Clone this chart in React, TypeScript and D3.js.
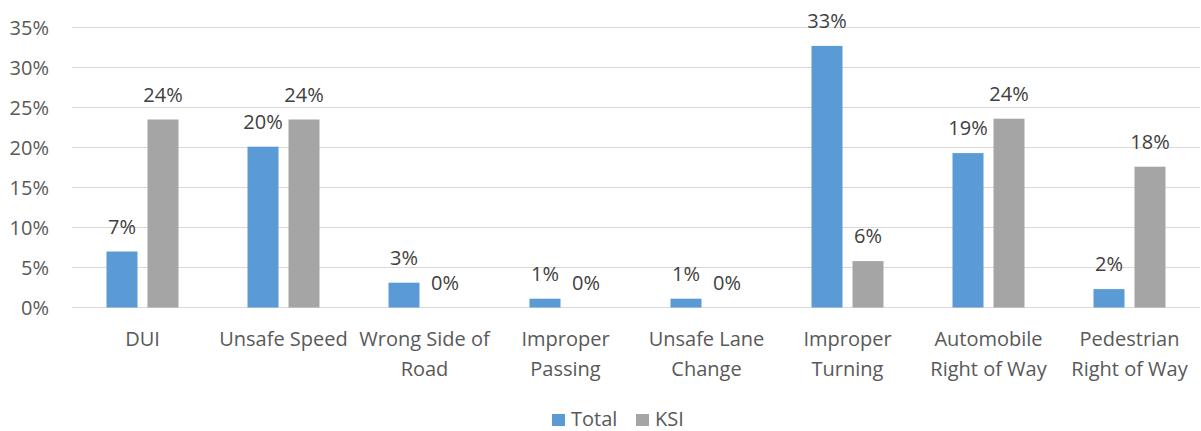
import React from "react";
import * as d3 from "d3";

const categories = [
  "DUI",
  "Unsafe Speed",
  "Wrong Side of Road",
  "Improper Passing",
  "Unsafe Lane Change",
  "Improper Turning",
  "Automobile Right of Way",
  "Pedestrian Right of Way",
];
const categoryLines = [
  ["DUI"],
  ["Unsafe Speed"],
  ["Wrong Side of", "Road"],
  ["Improper", "Passing"],
  ["Unsafe Lane", "Change"],
  ["Improper", "Turning"],
  ["Automobile", "Right of Way"],
  ["Pedestrian", "Right of Way"],
];
const seriesNames = ["Total", "KSI"];
const totalValues = [0.07, 0.201, 0.031, 0.011, 0.011, 0.327, 0.193, 0.023];
const ksiValues = [0.235, 0.235, 0, 0, 0, 0.058, 0.236, 0.176];
const yTicks = [0, 0.05, 0.1, 0.15, 0.2, 0.25, 0.3, 0.35];
const colors = ["#5B9BD5", "#A5A5A5"];

const W = 1201;
const H = 431;
const plotLeft = 72;
const plotRight = 1200;
const yBottom = 307.5;
const yTop = 27.5;
const FONT = "'Open Sans', sans-serif";

export default function App() {
  const x0 = d3.scaleBand<string>().domain(categories).range([plotLeft, plotRight]).padding(0);
  const groupW = 72;
  const x1 = d3
    .scaleBand<string>()
    .domain(seriesNames)
    .range([0, groupW])
    .paddingInner(2 - 72 / 41)
    .paddingOuter(0);
  const y = d3.scaleLinear().domain([0, 0.35]).range([yBottom, yTop]);
  const fmt = d3.format(".0%");
  const series = [totalValues, ksiValues];

  return (
    <div style={{ position: "absolute", left: 0, top: 0 }}>
      <svg width={W} height={H} style={{ display: "block", background: "#fff" }} fontFamily={FONT}>
        {yTicks.map((t) => (
          <g key={t}>
            <line x1={plotLeft} x2={plotRight} y1={y(t)} y2={y(t)} stroke="#D9D9D9" strokeWidth={1.2} />
            <text x={49} y={y(t) + 7} textAnchor="end" fontSize={20} fill="#595959">
              {fmt(t)}
            </text>
          </g>
        ))}
        {categories.map((c, i) => {
          const cx = x0(c)! + x0.bandwidth() / 2;
          const gx = cx - groupW / 2;
          return (
            <g key={c}>
              {series.map((vals, s) => {
                const v = vals[i];
                const bx = gx + x1(seriesNames[s])!;
                const bw = x1.bandwidth();
                return (
                  <g key={s}>
                    <rect x={bx} y={y(v)} width={bw} height={yBottom - y(v)} fill={colors[s]} />
                    <text x={bx + bw / 2} y={y(v) - 18} textAnchor="middle" fontSize={20} fill="#404040">
                      {fmt(v)}
                    </text>
                  </g>
                );
              })}
              {categoryLines[i].map((ln, k) => (
                <text key={k} x={cx} y={346 + k * 29.5} textAnchor="middle" fontSize={20} fill="#595959">
                  {ln}
                </text>
              ))}
            </g>
          );
        })}
        <g>
          <rect x={552} y={414} width={13} height={12} fill={colors[0]} />
          <text x={571} y={425.5} fontSize={20} fill="#595959">
            {seriesNames[0]}
          </text>
          <rect x={636} y={414} width={13} height={12} fill={colors[1]} />
          <text x={655} y={425.5} fontSize={20} fill="#595959">
            {seriesNames[1]}
          </text>
        </g>
      </svg>
    </div>
  );
}
